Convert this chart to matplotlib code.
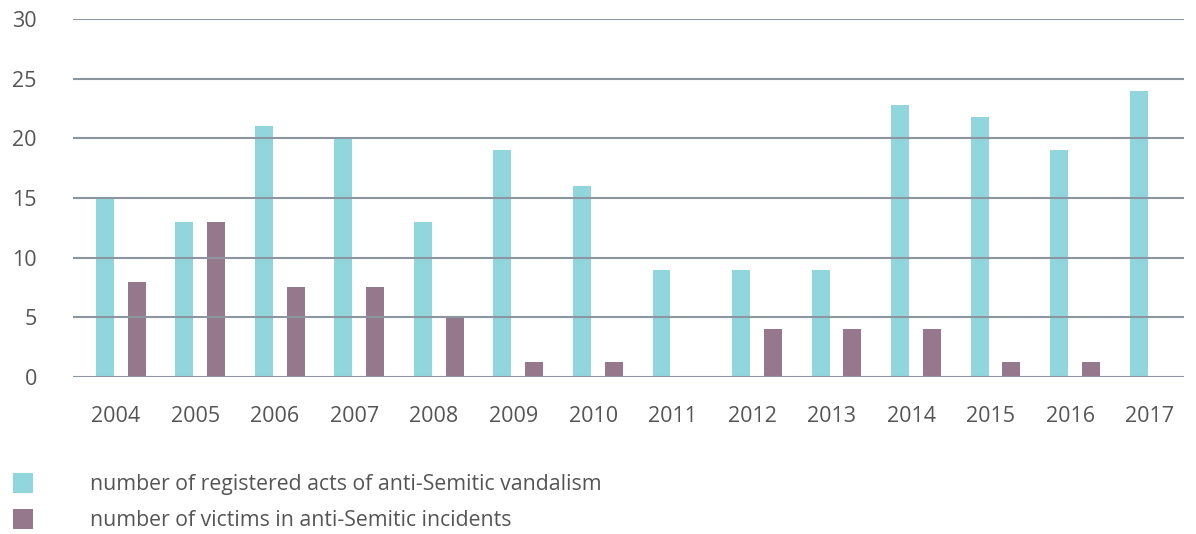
import matplotlib.pyplot as plt
import numpy as np
from matplotlib.patches import Patch

# Data
years = ['2004', '2005', '2006', '2007', '2008', '2009', '2010',
         '2011', '2012', '2013', '2014', '2015', '2016', '2017']
vandalism = [15, 13, 21, 20, 13, 19, 16, 9, 9, 9, 22.8, 21.8, 19, 24]
victims = [8, 13, 7.5, 7.5, 5, 1.25, 1.25, 0, 4, 4, 4, 1.25, 1.25, 0]
yticks = [0, 5, 10, 15, 20, 25, 30]

teal = '#92d6dd'
purple = '#96788c'
grid_col = '#8c96a0'
text_col = '#555555'

plt.rcParams['font.family'] = ['Open Sans', 'DejaVu Sans']

fig = plt.figure(figsize=(11.96, 5.34), dpi=100)
ax = fig.add_axes([0.061, 0.294, 0.929, 0.6706])

x = np.arange(len(years))
w = 0.226
ax.bar(x - 0.14, vandalism, width=w, color=teal, zorder=1)
ax.bar(x + 0.26, victims, width=w, color=purple, zorder=1)

ax.set_xlim(-0.54, 13.43)
ax.set_ylim(0, 30)
ax.set_yticks(yticks)
ax.set_xticks(x)
ax.set_xticklabels(years)

# gridlines sit on top of the bars, as in the original
ax.grid(axis='y', color=grid_col, linewidth=1.5, zorder=2)
ax.set_axisbelow(False)
for s in ax.spines.values():
    s.set_visible(False)
ax.tick_params(axis='y', length=0, pad=26, labelsize=15.5, labelcolor=text_col)
ax.tick_params(axis='x', length=0, pad=21, labelsize=15.5, labelcolor=text_col)

handles = [Patch(facecolor=teal, label='number of registered acts of anti-Semitic vandalism'),
           Patch(facecolor=purple, label='number of victims in anti-Semitic incidents')]
leg = fig.legend(handles=handles, loc='upper left', bbox_to_anchor=(0.004, 0.13),
                 frameon=False, fontsize=15.3, handlelength=0.94, handleheight=1.05,
                 handletextpad=2.65, labelspacing=0.65, borderaxespad=0)
for t in leg.get_texts():
    t.set_color(text_col)

fig.savefig('out.png', dpi=100)
